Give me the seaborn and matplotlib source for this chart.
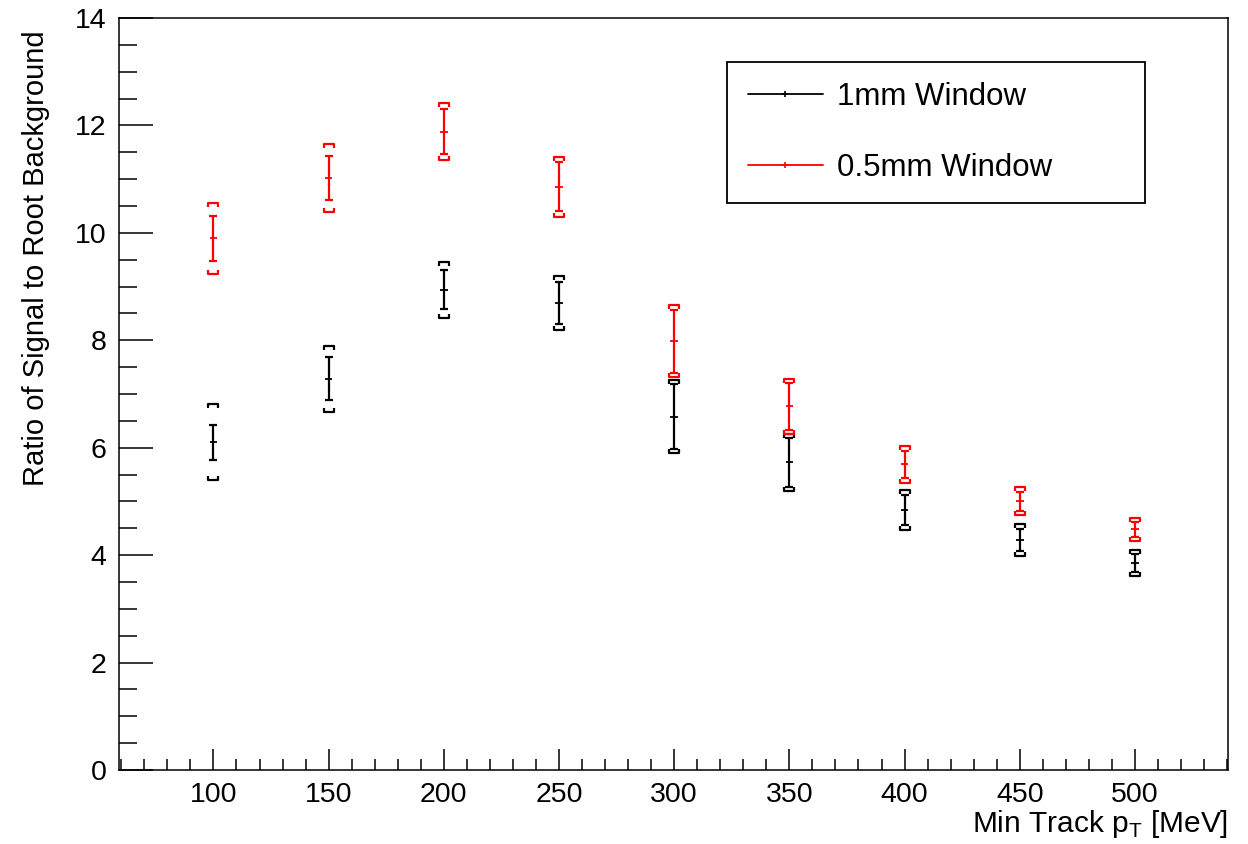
import numpy as np
import pandas as pd
import seaborn as sns
import matplotlib.pyplot as plt
from matplotlib.path import Path
from matplotlib.lines import Line2D
from matplotlib.ticker import MultipleLocator

# min track pT cut [MeV]
pt_cut = [100, 150, 200, 250, 300, 350, 400, 450, 500]

# 1mm window: value, stat error, syst error
ratio_1mm = [6.10, 7.28, 8.94, 8.69, 6.58, 5.73, 4.84, 4.28, 3.86]
stat_1mm = [0.33, 0.40, 0.36, 0.39, 0.60, 0.46, 0.28, 0.21, 0.17]
syst_1mm = [0.71, 0.62, 0.52, 0.50, 0.68, 0.53, 0.37, 0.30, 0.24]

# 0.5mm window
ratio_05mm = [9.90, 11.02, 11.88, 10.86, 7.98, 6.77, 5.69, 5.00, 4.48]
stat_05mm = [0.42, 0.41, 0.42, 0.46, 0.58, 0.44, 0.25, 0.18, 0.14]
syst_05mm = [0.66, 0.63, 0.53, 0.56, 0.67, 0.51, 0.34, 0.26, 0.22]

labels = ["1mm Window", "0.5mm Window"]
colors = {"1mm Window": "black", "0.5mm Window": "red"}

sns.set_theme(style="ticks")
plt.rcParams['font.family'] = ['Liberation Sans', 'DejaVu Sans']
plt.rcParams['axes.edgecolor'] = 'black'
plt.rcParams['xtick.color'] = 'black'
plt.rcParams['ytick.color'] = 'black'
plt.rcParams['text.color'] = 'black'
plt.rcParams['axes.labelcolor'] = 'black'

df = pd.concat([
    pd.DataFrame({"pt": pt_cut, "ratio": ratio_1mm, "stat": stat_1mm,
                  "syst": syst_1mm, "window": labels[0]}),
    pd.DataFrame({"pt": pt_cut, "ratio": ratio_05mm, "stat": stat_05mm,
                  "syst": syst_05mm, "window": labels[1]}),
], ignore_index=True)

# bracket markers for the systematic errors (ROOT "[]" style)
top_bracket = Path([(-1, -0.75), (-1, 0), (1, 0), (1, -0.75)])
bot_bracket = Path([(-1, 0.75), (-1, 0), (1, 0), (1, 0.75)])

fig = plt.figure(figsize=(12.48, 8.44), dpi=100)
ax = fig.add_axes([119/1248, 74/844, 1109/1248, 752/844])

for lab in labels:
    d = df[df.window == lab]
    c = colors[lab]
    ax.errorbar(d.pt, d.ratio, yerr=d.stat, fmt='none', ecolor=c,
                elinewidth=1.6, capsize=2.9, capthick=1.6, zorder=3)
    ax.plot(d.pt, d.ratio + d.syst, ls='none', marker=top_bracket, ms=7.2,
            mfc='none', mec=c, mew=1.6, zorder=3)
    ax.plot(d.pt, d.ratio - d.syst, ls='none', marker=bot_bracket, ms=7.2,
            mfc='none', mec=c, mew=1.6, zorder=3)

sns.scatterplot(data=df, x="pt", y="ratio", hue="window", palette=colors,
                marker='+', s=30, linewidth=1.3, legend=False, ax=ax, zorder=4)

ax.set_xlim(59, 540.4)
ax.set_ylim(0, 14)
ax.xaxis.set_major_locator(MultipleLocator(50))
ax.xaxis.set_minor_locator(MultipleLocator(10))
ax.yaxis.set_major_locator(MultipleLocator(2))
ax.yaxis.set_minor_locator(MultipleLocator(0.5))
ax.tick_params(axis='x', which='major', direction='in', length=15, width=1.1,
               labelsize=20.5, pad=9)
ax.tick_params(axis='x', which='minor', direction='in', length=8, width=1.1)
ax.tick_params(axis='y', which='major', direction='in', length=24.5, width=1.1,
               labelsize=20.5, pad=9)
ax.tick_params(axis='y', which='minor', direction='in', length=13, width=1.1)
for s in ax.spines.values():
    s.set_visible(True)
    s.set_linewidth(1.1)

ax.set_xlabel(r"Min Track p$_\mathregular{T}$ [MeV]", fontsize=21.5, loc='right')
ax.xaxis.set_label_coords(1.0, -0.05)
ax.set_ylabel("Ratio of Signal to Root Background", fontsize=21, loc='top')
ax.yaxis.set_label_coords(-0.062, 0.984)

handles = [Line2D([], [], color=colors[l], lw=1.3, marker='+', ms=5, mew=1.2)
           for l in labels]
leg = ax.legend(handles, labels, loc='upper left',
                bbox_to_anchor=(0.5486, 0.754, 0.3766, 0.1875), mode='expand',
                fontsize=22.5, frameon=True, fancybox=False, framealpha=1,
                edgecolor='black', handlelength=2.4, handletextpad=0.45,
                labelspacing=1.3, borderaxespad=0, borderpad=0.65)
leg.get_frame().set_linewidth(1.3)

fig.savefig("out.png", dpi=100)
